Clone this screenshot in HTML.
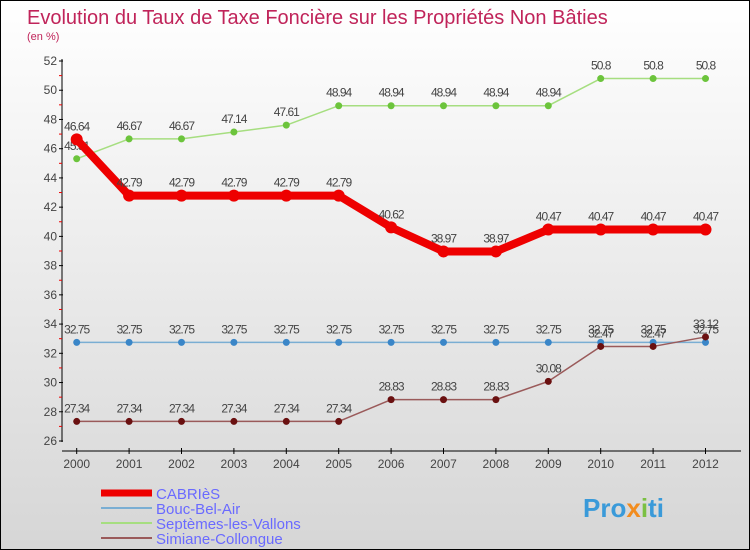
<!DOCTYPE html>
<html><head><meta charset="utf-8"><style>
body{margin:0}
#c{position:relative;width:748px;height:548px;border:1px solid #000;background:linear-gradient(#fff,#d6d6d6);font-family:"Liberation Sans",sans-serif;overflow:hidden}
</style></head><body>
<div id="c">
<svg id="s" width="748" height="548" xmlns="http://www.w3.org/2000/svg">
<text x="26" y="23" font-size="20" fill="#c0245a">Evolution du Taux de Taxe Foncière sur les Propriétés Non Bâties</text>
<text x="26" y="39" font-size="11" fill="#c0245a">(en %)</text>
<g id="axes"></g><g id="series"></g><g id="legend"></g>
<text x="582" y="516" font-size="26" font-weight="bold" fill="#3a9ad9">Pro<tspan fill="#f28c1e">x</tspan><tspan fill="#7bc043">i</tspan>ti</text>
</svg></div>
<script>
const years=[2000,2001,2002,2003,2004,2005,2006,2007,2008,2009,2010,2011,2012];
const cabries=[46.64,42.79,42.79,42.79,42.79,42.79,40.62,38.97,38.97,40.47,40.47,40.47,40.47];
const bouc=[32.75,32.75,32.75,32.75,32.75,32.75,32.75,32.75,32.75,32.75,32.75,32.75,32.75];
const septemes=[45.31,46.67,46.67,47.14,47.61,48.94,48.94,48.94,48.94,48.94,50.8,50.8,50.8];
const simiane=[27.34,27.34,27.34,27.34,27.34,27.34,28.83,28.83,28.83,30.08,32.47,32.47,33.12];
const yTicks=[26,28,30,32,34,36,38,40,42,44,46,48,50,52];
const NS="http://www.w3.org/2000/svg";
const X=i=>75.7+i*52.4;
const Y=v=>440-(v-26)*(380/26);
function mk(t,a,p){const e=document.createElementNS(NS,t);for(const k in a)e.setAttribute(k,a[k]);p.appendChild(e);return e;}
const ax=document.getElementById('axes');
let l=mk('line',{x1:61,y1:58,x2:61,y2:441,stroke:'#000'},ax);

l=mk('line',{x1:61,y1:450,x2:740,y2:450,stroke:'#000'},ax);

yTicks.forEach(v=>{
 mk('line',{x1:58,y1:Y(v),x2:62,y2:Y(v),stroke:'#000'},ax);
 if(v<52) mk('line',{x1:58,y1:Y(v+1),x2:61,y2:Y(v+1),stroke:'#e00'},ax);
 const t=mk('text',{x:56,y:Y(v)+4,'font-size':12,fill:'#444','text-anchor':'end'},ax);t.textContent=v;
 
});
years.forEach((y,i)=>{
 mk('line',{x1:X(i),y1:447,x2:X(i),y2:453,stroke:'#000'},ax);
 const t=mk('text',{x:X(i),y:467,'font-size':12,fill:'#444','text-anchor':'middle'},ax);t.textContent=y;
 
});
const sg=document.getElementById('series');
function series(name,data,color,dot,w,r){
 const g=mk('g',{},sg);
 
 mk('polyline',{points:data.map((v,i)=>X(i)+','+Y(v)).join(' '),fill:'none',stroke:color,'stroke-width':w,'stroke-linejoin':'round'},g);
 data.forEach((v,i)=>{
  const c=mk('circle',{cx:X(i),cy:Y(v),r:r,fill:dot},g);
  
  const t=mk('text',{x:X(i),y:Y(v)-9,'font-size':12,fill:'#444','text-anchor':'middle','letter-spacing':'-1'},g);t.textContent=v;
 });
}
series('bouc-bel-air',bouc,'#7aaed3','#3a86c8',1.5,3.5);
series('septemes',septemes,'#a6de80','#6cc43c',1.5,3.5);
series('simiane',simiane,'#9a5a5a','#6a1010',1.5,3.5);
series('cabries',cabries,'#ee0000','#ee0000',8,6);
const lg=document.getElementById('legend');
[['CABRIèS','#ee0000',7],['Bouc-Bel-Air','#7aaed3',2],['Septèmes-les-Vallons','#a6de80',2],['Simiane-Collongue','#9a5a5a',2]].forEach((d,i)=>{
 const y=492+i*15;
 const ln=mk('line',{x1:100,y1:y,x2:151,y2:y,stroke:d[1],'stroke-width':d[2]},lg);
 
 const t=mk('text',{x:155,y:y+6,'font-size':15,fill:'#6a6aff'},lg);t.textContent=d[0];
 
});
</script>
</body></html>
